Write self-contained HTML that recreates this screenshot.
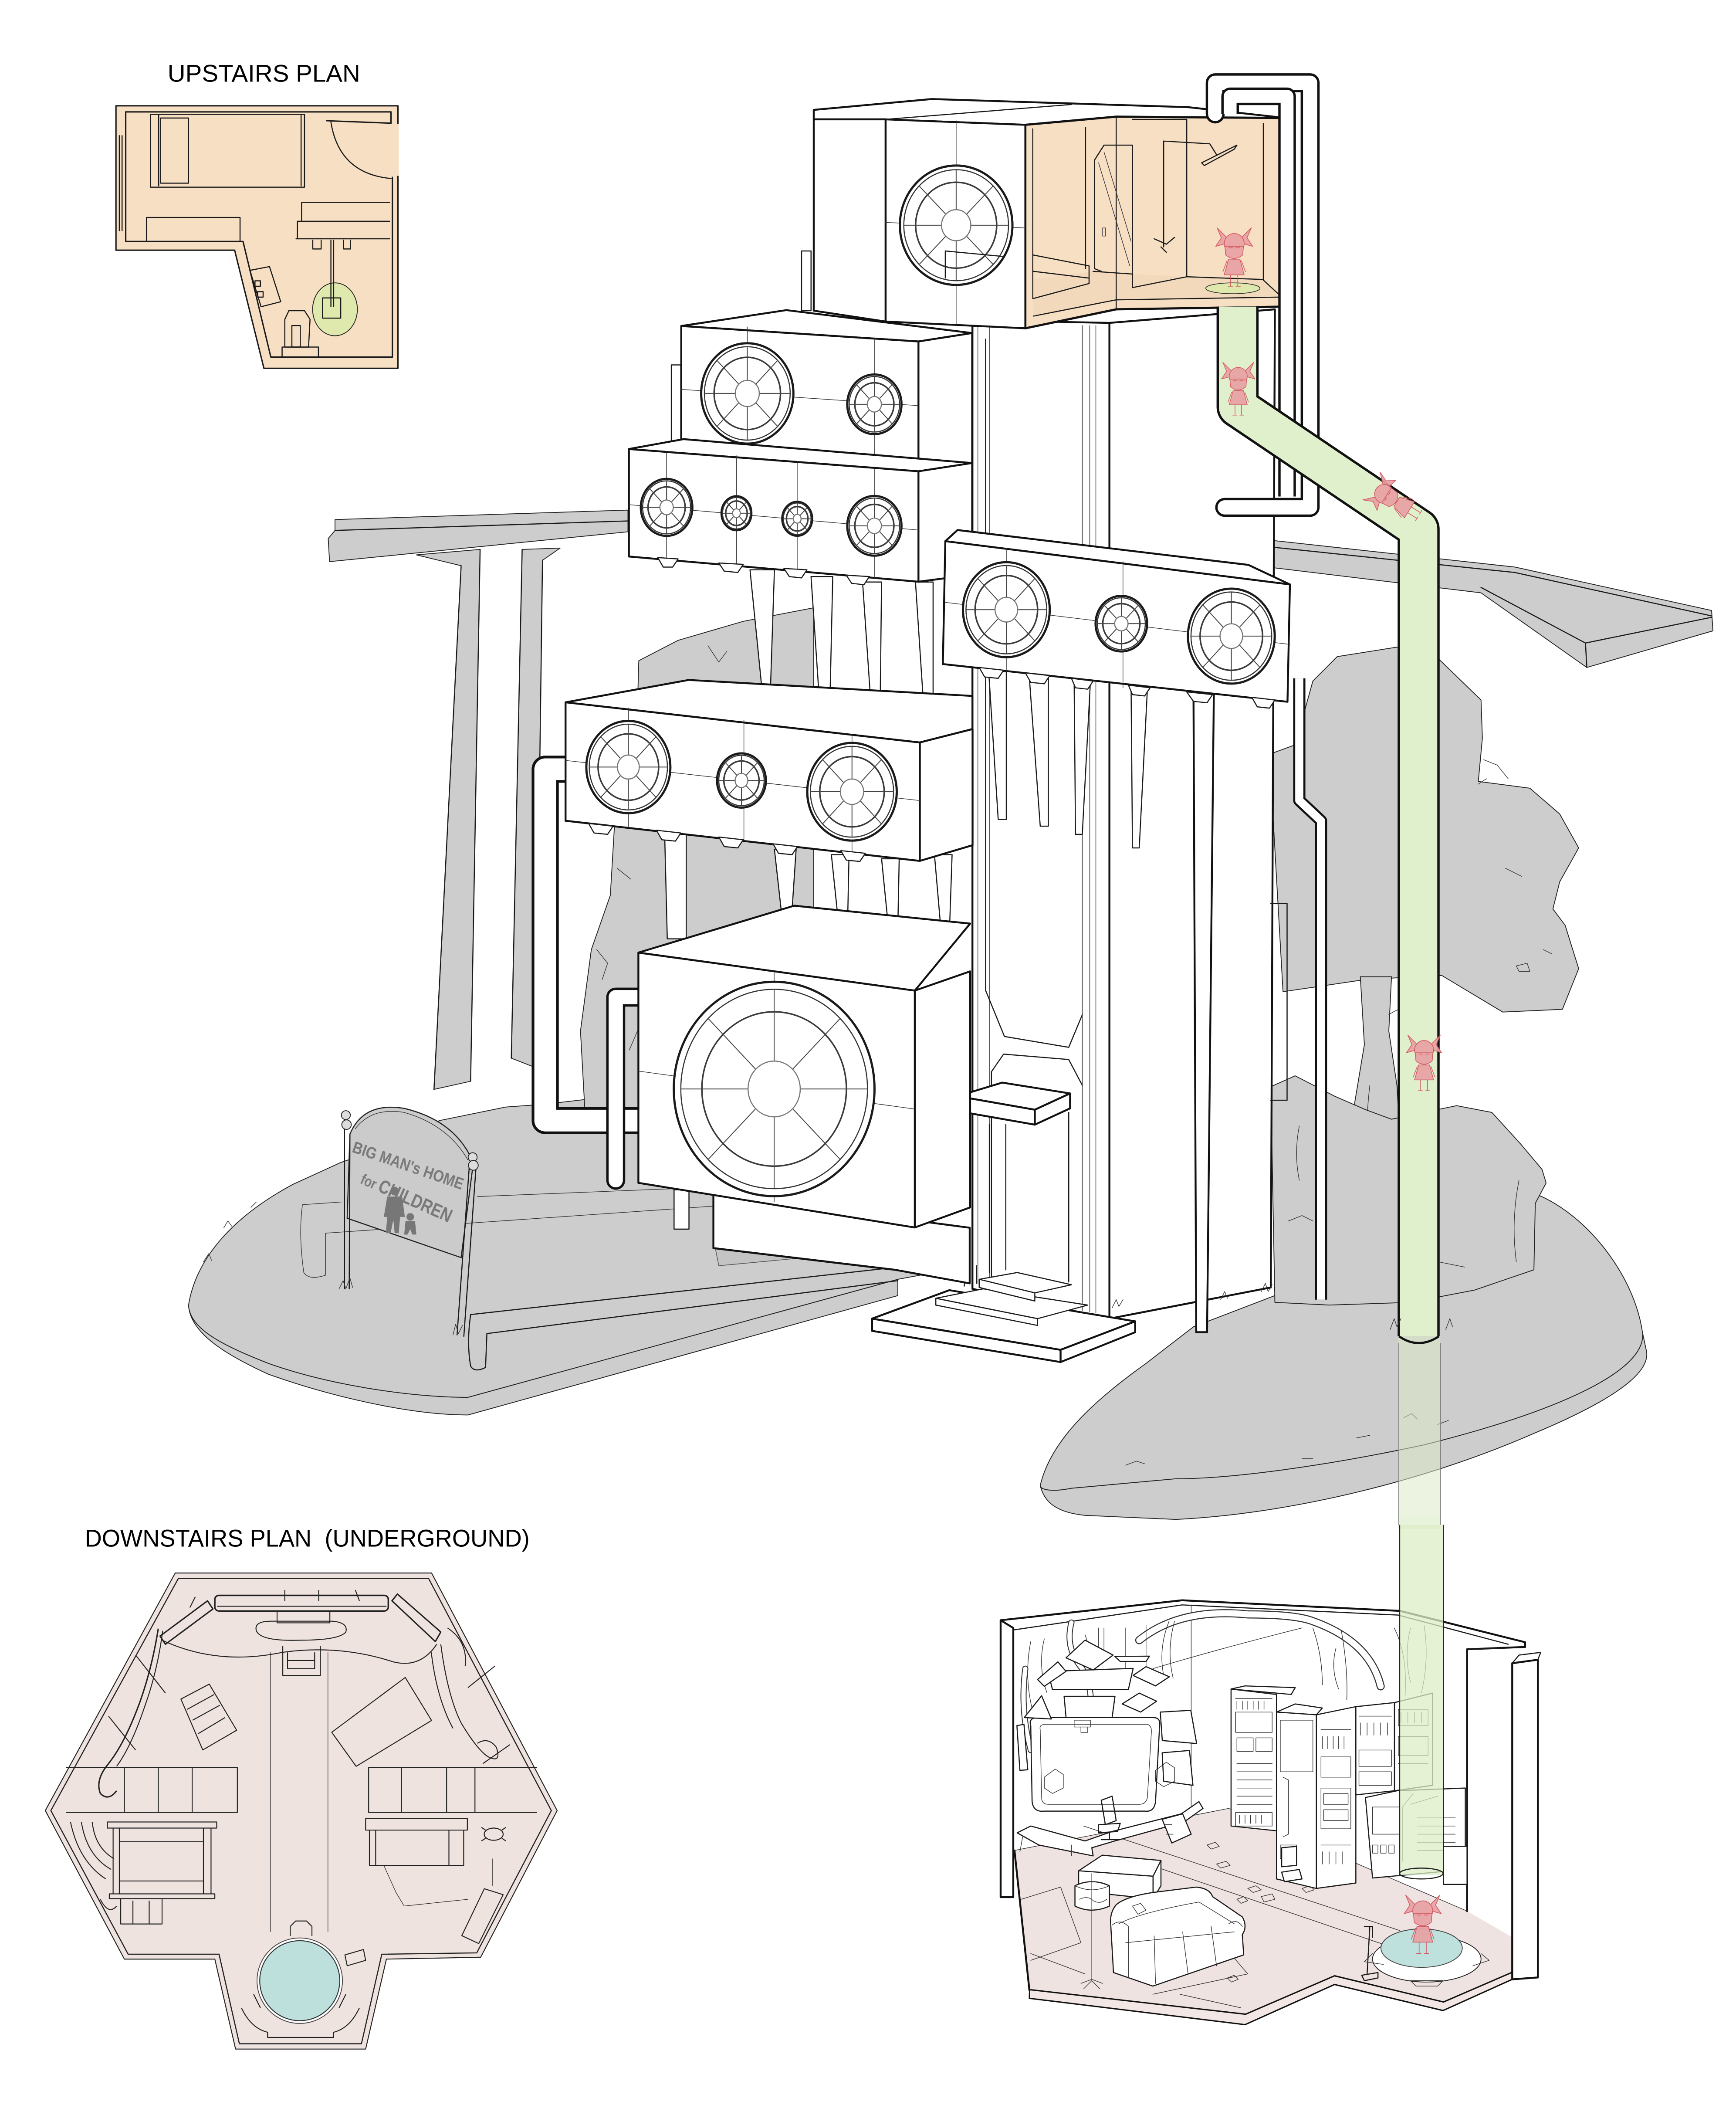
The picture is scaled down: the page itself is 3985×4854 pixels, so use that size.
<!DOCTYPE html>
<html><head><meta charset="utf-8"><style>
html,body{margin:0;padding:0;background:#fff;}
svg{display:block}
.k{fill:none;stroke:#111;stroke-width:1.4;stroke-linejoin:round;stroke-linecap:round}
.m{fill:none;stroke:#1a1a1a;stroke-width:.8;stroke-linejoin:round;stroke-linecap:round}
.t{fill:none;stroke:#333;stroke-width:.45;stroke-linejoin:round;stroke-linecap:round}
.w{fill:#fff;stroke:#111;stroke-width:1.4;stroke-linejoin:round}
.wm{fill:#fff;stroke:#1a1a1a;stroke-width:.8;stroke-linejoin:round}
.wt{fill:#fff;stroke:#222;stroke-width:.5;stroke-linejoin:round}
.g{fill:#cdcdcd;stroke:#222;stroke-width:.6;stroke-linejoin:round}
.pk{fill:#efe3e0;stroke:#222;stroke-width:.7;stroke-linejoin:round}
.lbl{font-family:"Liberation Sans",Arial,sans-serif;font-size:18px;fill:#000;white-space:pre}
</style></head><body>
<svg width="3985" height="4854" viewBox="0 0 1280 1559" preserveAspectRatio="none" xmlns="http://www.w3.org/2000/svg" xmlns:xlink="http://www.w3.org/1999/xlink">
<defs>
<g id="fan">
 <circle r="1" fill="#fff" stroke="#1a1a1a" stroke-width="5" vector-effect="non-scaling-stroke"/>
 <circle r=".93" fill="none" stroke="#333" stroke-width="2.5" vector-effect="non-scaling-stroke"/>
 <circle r=".72" fill="none" stroke="#3a3a3a" stroke-width="3.5" vector-effect="non-scaling-stroke"/>
 <path d="M0,-.93V-.26M0,.26V.93M-.93,0H-.26M.26,0H.93M.184,-.184L.66,-.66M-.184,-.184L-.66,-.66M.184,.184L.66,.66M-.184,.184L-.66,.66" stroke="#444" stroke-width="2" fill="none" vector-effect="non-scaling-stroke"/>
 <circle r=".26" fill="#fff" stroke="#777" stroke-width="2.5" vector-effect="non-scaling-stroke"/>
</g>
<g id="girl" fill="#e9a1a4" stroke="#d0505a" stroke-width=".5" stroke-linejoin="round" opacity=".92">
 <path d="M-5,-34 L-12,-41 L-9,-34 L-13,-28 L-6,-30Z M5,-34 L12,-41 L9,-34 L13,-28 L6,-30Z"/>
 <ellipse cx="0" cy="-30" rx="7" ry="7"/>
 <path d="M-6.5,-28 L-6,-22 Q0,-17 6,-22 L6.5,-28Z"/>
 <path d="M-4,-19 L4,-19 L7,-8 L-7,-8Z"/>
 <path d="M-5,-18 L-8,-10 M5,-18 L8,-10 M-2.5,-8 V0 M2.5,-8 V0 M-4.5,0 H-1 M1,0 H4.5" fill="none"/>
 <path d="M-4,-27 H-1 M1,-27 H4" fill="none"/>
</g>
</defs>

<!-- ========== BRIDGE LEFT ========== -->
<polygon class="g" points="247,383 463,376 463,392 243,414 242,397 247,391"/>
<path class="m" d="M247,391 L463,384"/>
<polygon class="g" points="307,409 354,405 347,797 320,803 340,417"/>
<path class="m" d="M340,417 L320,803 M354,405 L347,797"/>
<polygon class="g" points="385,405 413,404 400,413 395,787 377,780"/>
<path class="m" d="M385,405 L377,780 M400,413 L395,787"/>

<!-- ========== ROAD RIGHT ========== -->
<polygon class="g" points="935,398 1117,418 1262,450 1263,465 1170,492 1092,437 935,418"/>
<path class="m" d="M935,403 L1117,422 L1262,454 M1169,474 L1262,455 M1169,474 L1092,433 M1169,474 L1170,492"/>

<!-- ========== LEFT ISLAND ========== -->
<path class="g" d="M139,962 C140,982 165,998 198,1013 C240,1028 300,1043 345,1043 L662,955 L662,943 L345,1030 C300,1030 240,1020 198,1005 C165,992 140,980 139,962 Z"/>
<path class="g" d="M139,962 C145,925 175,895 216,873 L251,857 L286,845 L324,826 L373,816 L401,814 L470,806 L560,815 L662,880 L705,915 L705,935 L662,943 L345,1030 C300,1030 240,1020 198,1005 C165,992 140,980 139,962 Z"/>
<path class="t" d="M150,930 l4,-6 l2,5 M165,905 l3,-5 l3,4 M185,890 l4,-4"/>

<!-- ========== RIGHT ISLAND ========== -->
<path class="g" d="M767,1095 C770,1108 780,1115 800,1117 L867,1120 C950,1116 1050,1092 1130,1057 C1190,1032 1217,1012 1214,996 L1211,982 C1215,1010 1150,1040 1050,1065 C980,1080 910,1090 867,1090 L790,1097 C775,1100 767,1098 767,1095 Z"/>
<path class="g" d="M767,1095 C775,1060 810,1030 845,1005 L880,978 L940,955 L1000,930 L1080,885 L1132,880 C1170,895 1205,940 1211,982 C1215,1010 1150,1040 1050,1065 C980,1080 910,1090 867,1090 L790,1097 C775,1100 767,1098 767,1095 Z"/>
<path class="t" d="M830,1080 l8,-3 l6,2 M1000,1060 l10,-2 M960,1075 l8,0 M1060,1050 l8,-3 M1035,1045 l6,-3 l4,4"/>

<!-- ========== RIGHT TREE ========== -->
<polygon class="g" points="986,484 1030,477 1060,485 1092,516 1093,544 1090,576 1128,581 1150,600 1164,625 1150,650 1145,670 1154,682 1164,714 1152,744 1108,746 1063,719 1007,722 946,731 936,556 955,549 968,502"/>
<path class="t" d="M1094,560 l10,4 l8,10 M1110,640 l12,6 M1118,712 l8,-2 l2,6 l-8,0z M1138,700 l6,3 M1090,578 l6,-4"/>
<polygon class="g" points="1003,720 1026,720 1024,760 1030,800 1034,870 1040,932 1008,935 1002,880 996,830 1006,770"/>
<path class="t" d="M1024,748 Q1035,740 1060,738 M1010,800 Q1004,850 1014,900"/>
<path class="g" d="M937,801 L955,793 L984,808 L1007,818 L1026,825 L1074,815 L1100,820 L1121,843 L1137,862 L1140,872 L1132,887 L1131,936 L1087,951 L1040,960 L980,962 L940,960 Z"/>
<path class="t" d="M958,830 q-4,20 0,40 M1120,870 q-6,30 -2,60 M1060,930 l20,4 M950,900 l10,-4 l8,4"/>

<!-- ========== LEFT TREE ========== -->
<polygon class="g" points="471,487 500,472 548,458 600,448 600,700 560,740 520,790 470,832 432,832 428,760 436,700 450,660 453,610 468,590"/>
<path class="t" d="M440,700 l8,10 l-4,12 M455,640 l10,8 M470,760 l-6,14 M522,476 l8,12 l6,-8"/>

<!-- ========== WALKWAY / GROUND LINES ========== -->
<path class="t" d="M352,882 L527,875 M240,909 L527,889 M223,888 L252,886 M223,888 Q220,910 224,938 Q228,944 240,940 L240,909"/>
<path class="m" d="M347,969 L662,934 M359,983 L662,944 M347,969 Q344,990 347,1007 Q350,1012 358,1008 L359,983"/>
<path fill="#c4c4c4" stroke="#555" stroke-width=".5" d="M527,918 L610,913 Q617,918 615,925 L530,933 Z"/>

<!-- ========== SIGN ========== -->
<path fill="#cbcbcb" stroke="#222" stroke-width=".8" d="M258,836 Q268,812 298,817 Q336,826 349,857 L340,927 L256,898 Z"/>
<path class="t" d="M262,832 Q274,816 298,820 Q330,829 345,855"/>
<g font-family="'Liberation Sans',Arial,sans-serif" font-weight="bold" fill="#7a7a7a">
<text x="259" y="849" font-size="12" textLength="86" lengthAdjust="spacingAndGlyphs" transform="rotate(19 259 849)">BIG MAN's HOME</text>
<text x="265" y="872" font-size="11" textLength="72" lengthAdjust="spacingAndGlyphs" transform="rotate(24 265 872)">for <tspan font-size="14">CHILDREN</tspan></text>
</g>
<g fill="#777">
<circle cx="291" cy="878" r="3.2"/>
<path d="M285.5,882 L296.5,882 L298.5,897 L295,897 L294,909 L291,909 L290,899 L288,909 L284.5,909 L285.5,897 L283,897 Z"/>
<circle cx="302.5" cy="897" r="2.8"/>
<path d="M299,900 L306,900 L307,910 L304,910 L302.5,906 L300.5,910 L298,910 Z"/>
</g>
<path class="m" d="M254,825 L254,950 M258,836 L257.5,950"/>
<circle cx="255" cy="822" r="3.3" fill="#ddd" stroke="#222" stroke-width=".6"/>
<circle cx="255.5" cy="829" r="3.5" fill="#ddd" stroke="#222" stroke-width=".6"/>
<path class="m" d="M346,860 L337,984 M351,860 L342,985"/>
<circle cx="348.5" cy="853" r="3.3" fill="#ddd" stroke="#222" stroke-width=".6"/>
<circle cx="349" cy="859" r="3.6" fill="#ddd" stroke="#222" stroke-width=".6"/>
<path class="t" d="M250,950 l3,-6 l2,6 l3,-8 l2,7 M334,984 l2,-8 l2,7 l3,-6"/>

<!-- ========== BACK TOWER (top) ========== -->
<polygon class="w" points="600,81 687,73 876,79 948,87 823,86 756,92 653,88 600,88"/>
<path class="m" d="M653,88 L790,77"/>
<polygon class="w" points="600,88 653,88 653,237 600,229"/>
<path class="wm" d="M591,185 h7 v44 h-7 z"/>

<!-- ========== TOWER COLUMN ========== -->
<polygon class="w" points="717,236 818,238 818,972 717,950"/>
<polygon class="w" points="818,238 940,228 937,949 818,972"/>
<path class="t" d="M721,240 V946 M729.5,240 V944 M798,240 V966 M803.5,240 V967 M808,240 V968"/>
<path class="m" d="M726.7,250 V730 L740.6,764 L788,772 L798,748 M731,944 V790 L740,777 L788,781 L798,800"/>
<path class="m" d="M937,666 h12 v145 h-12"/>
<path class="t" d="M820,964 l3,-6 l2,5 l3,-5 M900,958 l3,-6 l2,5 M930,952 l3,-6 l2,6 l3,-5"/>
<!-- right tower pipe -->
<path d="M958,500 V590 L974,605 V958" fill="none" stroke="#111" stroke-width="9" stroke-linejoin="round"/>
<path d="M958,500 V590 L974,605 V958" fill="none" stroke="#fff" stroke-width="6" stroke-linejoin="round"/>

<!-- plinth & steps & seat -->
<polygon class="w" points="643,972 700,951 837,974 782,995"/>
<polygon class="w" points="643,972 782,995 782,1004 643,981"/>
<polygon class="w" points="782,995 837,974 837,982 782,1004"/>
<polygon class="wm" points="690,957 725,950 802,962 765,972"/>
<polygon class="wm" points="690,957 765,972 765,977 690,962"/>
<polygon class="wm" points="722,943 750,938 790,947 763,953"/>
<polygon class="wm" points="722,943 763,953 763,959 722,949"/>
<path class="m" d="M711,936 L711,948 M720,933 V946 M729.5,829 V938 M741.6,829 V936 M788,820 V945"/>
<polygon class="w" points="706,808 739,798 789,806 763,818"/>
<polygon class="w" points="706,808 763,818 763,829 706,819"/>
<polygon class="w" points="763,818 789,806 789,817 763,829"/>

<!-- ========== ROOM (upstairs cutaway) ========== -->
<polygon fill="#f7dfc4" stroke="#111" stroke-width="1.6" stroke-linejoin="round" points="756,92 823,86 948,87 948,226 823,228 756,242"/>
<polygon fill="#f3d9bc" stroke="none" points="762,233 823,221 944,219 931,206 875,204 835,202 806,200 762,206"/>
<path class="m" d="M761.5,95 V220 M800.4,94 V198 M823,86 V228 M931.5,91 V206 M943.6,90 V218 M762,233 L823,221 L944,219 M806,200 L835,202 M875,204 L931,206 L944,218"/>
<path class="m" d="M762,188 L803,196 V209 L762,220 M762,200 L803,205"/>
<path class="m" d="M807,118 L814,107 H835 M807,118 V198 L812,200 M835,107 V212 L875,204 V88 L835,88"/>
<path class="t" d="M814,112 L834,178 M810,120 L833,196 M813,168 h2 v6 h-2z"/>
<path class="m" d="M858,104 V182 M858,104 L892,106 L897,114 M886,120 L912,107 L910,110 L888,122z M851,176 L860,180 L866,175 M856,182 L860,186"/>
<ellipse cx="909" cy="212.5" rx="20" ry="4" fill="#dfe9ad" stroke="#333" stroke-width=".5"/>
<use href="#girl" xlink:href="#girl" transform="translate(910,211) scale(1.05)"/>

<!-- fan box -->
<polygon class="w" points="653,88 756,92 756,242 653,237"/>
<path class="t" d="M705,89 V240 M653,164 L756,168"/>
<use href="#fan" xlink:href="#fan" transform="translate(705,166) scale(41.5,44)"/>
<path class="m" d="M697,185 L739,189 M697,185 V205"/>

<!-- top-right pipes -->
<path d="M896,84 V61 H966 V374 H903" fill="none" stroke="#111" stroke-width="14" stroke-linejoin="round" stroke-linecap="round"/>
<path d="M896,84 V61 H966 V374 H903" fill="none" stroke="#fff" stroke-width="10.5" stroke-linejoin="round" stroke-linecap="round"/>
<path d="M907,84 V71 H949 V366" fill="none" stroke="#111" stroke-width="13" stroke-linejoin="round"/>
<path d="M907,84 V71 H949 V366" fill="none" stroke="#fff" stroke-width="9.5" stroke-linejoin="round"/>

<!-- ========== PEGS under 4-fan box ========== -->
<polygon class="wm" points="553,420 571,420 568,510 562,510"/>
<polygon class="wm" points="598,425 614,425 612,514 604,514"/>
<polygon class="wm" points="636,429 650,429 649,517 642,517"/>
<polygon class="wm" points="675,429 688,429 688,520 681,520"/>

<!-- ========== 2-FAN BOX ========== -->
<path class="wm" d="M495,269 h7 v57 h-7 z"/>
<polygon class="w" points="502.3,240.3 579.8,228.6 716.8,245.5 677.2,251.7"/>
<polygon class="w" points="677.2,251.7 716.8,245.5 716.8,341.3 677.2,346.4"/>
<polygon class="w" points="502.3,240.3 677.2,251.7 677.2,346.4 502.3,332"/>
<path class="t" d="M551,241 V334 M644.7,249 V345 M502,287 L677,299"/>
<use href="#fan" xlink:href="#fan" transform="translate(551,290) scale(34,37)"/>
<use href="#fan" xlink:href="#fan" transform="translate(644.7,298) scale(20,22)"/>

<!-- ========== 4-FAN BOX ========== -->
<polygon class="w" points="463.7,331 504,323.7 716.8,341.3 677.2,347.4"/>
<polygon class="w" points="677.2,347.4 716.8,341.3 716.8,423.6 677.2,428.8"/>
<polygon class="w" points="463.7,331 677.2,347.4 677.2,428.8 463.7,410.2"/>
<path class="t" d="M491.5,333 V411 M543,336 V416 M587.8,340 V420 M644.7,345 V426 M463.7,372 L677.2,390.7"/>
<use href="#fan" xlink:href="#fan" transform="translate(491.5,374) scale(19,21)"/>
<use href="#fan" xlink:href="#fan" transform="translate(543,378.3) scale(11,12.5)"/>
<use href="#fan" xlink:href="#fan" transform="translate(587.8,382.4) scale(11,12.5)"/>
<use href="#fan" xlink:href="#fan" transform="translate(644.7,387.6) scale(20,22)"/>
<path class="wm" d="M485,411 L500,412 L496,418 L489,418z M530,415 L548,416 L544,422 L534,421z M578,419 L595,420 L591,426 L582,425z M624,424 L641,425 L637,431 L628,430z"/>

<!-- ========== PEGS under right box ========== -->
<polygon class="wm" points="729,495 742,495 742,604 736,604"/>
<polygon class="wm" points="759,500 773,500 773,609 767,609"/>
<polygon class="wm" points="792,502 804,502 798,615 793,615"/>
<polygon class="wm" points="834,508 846,508 840,625 835,625"/>
<polygon class="w" points="880,511 895,511 890,982 882,982"/>

<!-- ========== RIGHT 3-FAN BOX ========== -->
<polygon class="w" points="697,398.9 706,390.7 920.5,416.4 951.1,430.8"/>
<polygon class="w" points="697,398.9 951.1,430.8 949.3,517.3 695.2,489.5"/>
<path class="t" d="M742,404 V495 M828,414 V507 M697,444 L951,475"/>
<use href="#fan" xlink:href="#fan" transform="translate(742,449.4) scale(32,35)"/>
<use href="#fan" xlink:href="#fan" transform="translate(826.8,459.7) scale(19,20.5)"/>
<use href="#fan" xlink:href="#fan" transform="translate(907.9,468.9) scale(32,35)"/>
<path class="wm" d="M722,492 L740,494 L736,500 L726,499z M756,496 L774,498 L770,504 L760,503z M790,500 L806,502 L802,508 L793,507z M832,505 L848,507 L844,513 L835,512z M875,510 L894,512 L890,518 L880,517z M923,514 L940,516 L936,522 L927,521z"/>

<!-- ========== PEGS under left 3-fan box ========== -->
<polygon class="wm" points="490,612 506,612 506,692 492,692"/>
<polygon class="wm" points="571,626 587,626 584,671 576,671"/>
<polygon class="wm" points="613,630 626,630 625,678 618,678"/>
<polygon class="wm" points="650,633 663,633 662,683 655,683"/>
<polygon class="wm" points="689,630 702,630 700,688 694,688"/>

<!-- left pipes -->
<path d="M420,567 H402 V826 H472" fill="none" stroke="#111" stroke-width="20" stroke-linejoin="round"/>
<path d="M420,567 H402 V826 H472" fill="none" stroke="#fff" stroke-width="16" stroke-linejoin="round"/>
<path d="M472,735 H454 V870" fill="none" stroke="#111" stroke-width="14" stroke-linejoin="round" stroke-linecap="round"/>
<path d="M472,735 H454 V870" fill="none" stroke="#fff" stroke-width="10.5" stroke-linejoin="round" stroke-linecap="round"/>
<path class="wm" d="M497,877 h11 v29 h-11z"/>

<!-- ========== LEFT 3-FAN BOX ========== -->
<polygon class="w" points="417,517.7 507.8,501.2 717,513 717,537.4 678.2,547.3"/>
<polygon class="w" points="678.2,547.3 717.1,537.4 717.1,623 678.2,634.6"/>
<polygon class="w" points="417,517.7 678.2,547.3 678.2,634.6 417,605"/>
<path class="t" d="M463.3,522 V610 M548.5,531 V620 M628.2,541 V629 M417,560.5 L678.2,590.1"/>
<use href="#fan" xlink:href="#fan" transform="translate(463.3,565.4) scale(31,34)"/>
<use href="#fan" xlink:href="#fan" transform="translate(546.7,575.3) scale(18,20)"/>
<use href="#fan" xlink:href="#fan" transform="translate(628.2,583.6) scale(33,36)"/>
<path class="wm" d="M434,607 L452,609 L448,615 L438,614z M484,612 L502,614 L498,620 L488,619z M530,617 L548,619 L544,625 L534,624z M570,622 L588,624 L584,630 L574,629z M620,627 L638,629 L634,635 L624,634z"/>

<!-- ========== BASE BLOCK & BIG FAN BOX ========== -->
<polygon class="w" points="526,880 715,905 715,946 660,936 526,920"/>
<path class="k" d="M526,920 L660,936"/>
<polygon class="w" points="470.7,702.2 585.6,667.6 715.3,680.8 674.5,730.2"/>
<polygon class="w" points="674.5,730.2 715.3,716 715.3,890 674.5,904.8"/>
<polygon class="w" points="470.7,702.2 674.5,730.2 674.5,904.8 470.7,871.9"/>
<path class="t" d="M570.8,716 V886 M470.7,789.5 L674.5,817.5"/>
<use href="#fan" xlink:href="#fan" transform="translate(570.8,802.7) scale(74,79)"/>

<!-- ========== GREEN PIPE ========== -->
<rect x="1031" y="985" width="31" height="132" fill="#dcebc8" opacity=".55"/>
<rect x="1031" y="1117" width="31" height="10" fill="#e4f1d6" opacity=".85"/>
<path d="M1031,990 V1124 M1062,990 V1124" stroke="#777" stroke-width=".5" fill="none"/>
<path d="M912.5,226 V300 L1046,390 V985" fill="none" stroke="#111" stroke-width="31" stroke-linejoin="round"/>
<path d="M912.5,226 V300 L1046,390 V985" fill="none" stroke="#e0efcc" stroke-width="27.5" stroke-linejoin="round"/>
<path d="M1031.5,985 Q1046,995 1061,985" fill="none" stroke="#111" stroke-width="1.6"/>
<use href="#girl" xlink:href="#girl" transform="translate(913,306) scale(.95)"/>
<use href="#girl" xlink:href="#girl" transform="translate(1046,380) rotate(-58) scale(1)"/>
<use href="#girl" xlink:href="#girl" transform="translate(1050,804) scale(1)"/>
<path class="t" d="M1025,980 l3,-8 l2,6 l3,-6 M1066,980 l3,-8 l2,6"/>

<!-- ========== BASEMENT ========== -->
<polygon fill="#efe3e1" stroke="none" points="748.5,1363.7 906,1333 1081.7,1408.7 1115,1428 1115,1453.8 1064.3,1475.7 984,1456.4 918.4,1484.7 759.2,1466.6"/>
<polygon fill="#f3e7e5" stroke="#111" stroke-width="1" stroke-linejoin="round" points="759.2,1466.6 918.4,1484.7 984,1456.4 1064.3,1475.7 1115,1453.8 1115,1459 1064,1482 984,1462.8 918,1492.4 759,1473"/>
<path class="k" d="M748,1364 L759,1467"/>
<!-- walls -->
<path class="k" d="M737.8,1194.3 L871.6,1179.6 L1032.2,1187.4 L1124.5,1210.5 L1124.5,1214 L1081.7,1215.7 V1408.7"/>
<path class="m" d="M747.1,1201.5 L871.6,1183 L1030.9,1190.5 L1112,1212"/>
<polygon class="w" points="737.8,1194.3 747.1,1200 747.1,1398.4 737.8,1398.4"/>
<polygon class="w" points="1115,1226 1133.9,1223.4 1133.9,1457.6 1115,1459"/>
<path class="m" d="M1115,1226 L1120,1220 L1136,1218 L1133.9,1223.4 M1081.7,1215.7 L1108,1215"/>
<path class="t" d="M878.3,1183 V1333 M748,1364 L906,1333 L1081.7,1408.7"/>
<!-- floor lines, rugs, papers -->
<path class="t" d="M799,1346 L1032,1423 M840,1372 L1040,1440 M753,1400 L782,1391 L797,1432 L760,1445 M890,1420 L920,1455 L850,1470 M870,1470 L915,1480 M760,1440 L800,1455 M920,1392 l6,-2 l4,3 l-6,2z M930,1398 l8,-2 l2,4 l-8,2z M912,1400 l5,-2 l3,3 l-5,2z M960,1392 l6,-2 l3,3 l-6,2z M890,1360 l6,-2 l3,3 l-6,2z M897,1374 l7,-2 l3,3 l-7,2z M905,1458 l5,-2 l3,3 l-5,2z"/>
<!-- tubes -->
<path d="M840,1209 Q870,1185 920,1190 Q955,1190 968,1195 Q1010,1210 1018,1243" fill="none" stroke="#333" stroke-width="6" stroke-linecap="round"/>
<path d="M840,1209 Q870,1185 920,1190 Q955,1190 968,1195 Q1010,1210 1018,1243" fill="none" stroke="#fff" stroke-width="4.5" stroke-linecap="round"/>
<path d="M756,1230 Q752,1260 760,1290 M790,1196 Q785,1215 798,1230 Q806,1245 804,1262" fill="none" stroke="#333" stroke-width="4.5" stroke-linecap="round"/>
<path d="M756,1230 Q752,1260 760,1290 M790,1196 Q785,1215 798,1230 Q806,1245 804,1262" fill="none" stroke="#fff" stroke-width="3.2" stroke-linecap="round"/>
<path class="t" d="M968,1200 Q975,1220 975,1242 M989,1202 Q994,1230 993,1253 M850,1230 Q900,1215 960,1200 M760,1210 q-6,30 4,60 M770,1208 q-5,20 2,40 M800,1205 q8,20 0,40 M830,1200 v30 M845,1198 v40 M1028,1200 q10,20 8,50 M862,1195 q-8,20 -4,40 M866,1195 q-6,22 -1,42 M810,1200 v22 M814,1200 v22 M852,1290 q-6,10 0,22 M1040,1200 q-5,20 0,40 M1050,1198 q4,25 -2,50 M985,1215 q-4,15 2,30"/>
<!-- monitor cluster -->
<path class="wm" d="M760,1272 Q758,1266 766,1266 H850 Q856,1266 855,1272 L852,1328 Q851,1336 844,1335 L770,1335 Q762,1336 761,1328 Z"/>
<path class="t" d="M767,1275 Q766,1271 771,1271 H846 Q849,1272 849,1276 L846,1325 Q845,1330 840,1330 L773,1330 Q768,1330 768,1325 Z"/>
<polygon class="wm" points="772.6,1232 835.5,1229.8 832,1245.3 776,1245.3"/>
<polygon class="wm" points="784.6,1250.4 822.1,1250.4 820,1265.9 786,1265.9"/>
<polygon class="wm" points="786,1222 800,1209 820.7,1220 806,1231"/>
<polygon class="wm" points="827.4,1256 840,1248 852.8,1254 841,1262"/>
<polygon class="wm" points="835.5,1235 845,1228.5 862.2,1236 852,1242.7"/>
<polygon class="wm" points="855.5,1262 878,1260.7 882.3,1285.2 857,1283"/>
<polygon class="wm" points="856.9,1292 877,1290.3 879.6,1316 858,1313"/>
<polygon class="wm" points="755.2,1266 768,1250 775.2,1267.1"/>
<polygon class="wm" points="749.8,1272 755,1271 757.8,1304.5 752,1305"/>
<polygon class="wm" points="822,1221 847.5,1220.8 845,1224.7 826,1224.7"/>
<polygon class="wm" points="765,1238 780,1225 786,1232 770,1243"/>
<path class="t" d="M770,1310 l8,-6 l6,4 l0,10 l-8,4 l-6,-4z M852,1305 l8,-6 l6,4 l0,10 l-8,4 l-6,-4z M792,1268 h12 v5 h-12z M797,1273 h5 v4 h-5z"/>
<!-- desk -->
<path class="wm" d="M750,1351 L760,1346 L800,1357 L820,1350 L871,1337 L884,1328 L887,1333 L873,1343 L822,1357 L805,1362 L806,1368 L766,1360 Z"/>
<path class="t" d="M754,1354 L752,1365 M790,1360 V1368 M870,1342 V1350"/>
<polygon class="wm" points="856.9,1341 872,1337 878.3,1352 864,1358.5"/>
<path class="t" d="M859,1345 h5 M860,1352 h5"/>
<path class="m" d="M812,1327 l8,-3 l3,18 l-8,3z M810,1345 l16,-1 l-2,6 l-14,1z M818,1351 v5 M812,1356 h14"/>
<!-- racks -->
<polygon class="wm" points="907.7,1245 918,1242.7 955,1244 952,1249"/>
<polygon class="wm" points="907.7,1245 941.2,1249 941.2,1349.5 907.7,1346"/>
<path class="t" d="M911,1252 h27 M912,1254 v6 M916,1254 v6 M920,1254 v6 M924,1254 v6 M928,1254 v6 M932,1254 v6 M911,1262 h27 v15 h-27z M912,1281 h12 v10 h-12z M926,1281 h12 v10 h-12z M912,1300 h26 M912,1306 h26 M912,1312 h26 M912,1318 h26 M912,1324 h26 M912,1330 h26 M911,1336 h27 v10 h-27z M914,1338 v6 M918,1338 v6 M922,1338 v6 M926,1338 v6 M930,1338 v6"/>
<polygon class="wm" points="941.2,1262 955,1256 975,1259 970.6,1264"/>
<polygon class="wm" points="941.2,1262 970.6,1264 970.6,1392 941.2,1385"/>
<polygon class="wm" points="970.6,1264 999.7,1258 999.7,1388 970.6,1392"/>
<polygon class="wm" points="999.7,1258 1028.2,1255 1028.2,1320 999.7,1323"/>
<polygon class="wm" points="1028.2,1255 1056.3,1248 1056.3,1316 1028.2,1320"/>
<path class="t" d="M944,1268 h24 v38 h-24z M946,1310 l4,2 v40 l-4,2 M944,1360 h12 v10 h-12z M974,1275 h22 M975,1280 v9 M979,1280 v9 M983,1280 v9 M987,1280 v9 M991,1280 v9 M974,1295 h22 v15 h-22z M974,1318 h22 v30 h-22z M976,1322 h18 v8 h-18z M976,1334 h18 v8 h-18z M974,1360 h22 M975,1365 v9 M980,1365 v9 M985,1365 v9 M990,1365 v9 M1002,1265 h24 M1003,1270 v9 M1008,1270 v9 M1013,1270 v9 M1018,1270 v9 M1023,1270 v9 M1002,1290 h24 v12 h-24z M1002,1306 h24 v10 h-24z M1031,1260 h22 v12 h-22z M1031,1280 h22 v14 h-22z M1031,1300 h22 M1033,1262 v8 M1038,1262 v8 M1043,1262 v8 M1048,1262 v8"/>
<polygon class="wm" points="1006.8,1325 1030,1320 1080.4,1318 1080.4,1378 1012,1384.3"/>
<path class="t" d="M1012,1332 h20 v20 h-20z M1012,1360 h4 v6 h-4z M1018,1360 h4 v6 h-4z M1024,1360 h4 v6 h-4z M1040,1330 l20,-6 M1045,1340 h28 M1045,1346 h28 M1045,1352 h28 M1045,1358 h28 M1045,1364 h28 M1042,1322 l-8,10 v40"/>
<polygon class="wm" points="1064.3,1361 1081.7,1361 1081.7,1389 1064.3,1389"/>
<polygon class="wm" points="945,1362 956,1361 956,1375 945,1376"/>
<polygon class="wm" points="945,1380 958,1378 960,1385 947,1387"/>
<!-- coffee box, lamp, couch -->
<polygon class="wm" points="795.3,1379 812.7,1367.5 856,1371.4 850.2,1383"/>
<polygon class="wm" points="795.3,1379 850.2,1383 850.2,1399.7 795.3,1394"/>
<polygon class="wm" points="850.2,1383 856,1371.4 856,1390 850.2,1399.7"/>
<path class="wm" d="M792.6,1390 Q805,1384 818,1390 V1405 Q805,1411 792.6,1405 Z"/>
<path class="t" d="M792.6,1390 Q805,1396 818,1390 M805,1381 V1460 M797,1462 l8,-3 l8,3 M799,1466 l6,-6 l6,6 M796,1400 q6,-3 10,1 q5,3 10,-1"/>
<path class="wm" d="M823,1404 Q830,1398 850,1395 L882,1391 Q892,1392 894,1398 L916,1413 Q920,1420 916,1426 L917,1441 L850,1464 L821,1454 L819,1419 Q818,1410 823,1404 Z"/>
<path class="t" d="M825,1418 Q840,1410 884,1402 L910,1418 M830,1432 L910,1424 M851,1427 L852,1462 M872,1424 L876,1455 M893,1420 L897,1449 M820,1419 Q826,1414 832,1420 L832,1458 M906,1418 Q912,1414 916,1420 M835,1405 l6,-2 l4,5 l-6,3z"/>
<!-- green beam + disc -->
<ellipse cx="1052" cy="1444" rx="40" ry="17" fill="#fff" stroke="#222" stroke-width=".6"/>
<path class="t" d="M1012,1440 l-6,6 l14,2 M1092,1440 l6,5 l-12,4 M1040,1460 h24 l-4,4 h-16z"/>
<ellipse cx="1048.2" cy="1436" rx="30" ry="14.2" fill="#bfe1dd" stroke="#444" stroke-width=".6"/>
<path class="m" d="M1004,1456 l12,-2 l0,4 l-10,2z M1008,1455 L1010,1420 M1006,1420 h6 v8"/>
<rect x="1032" y="1124" width="32.3" height="258" fill="#dcedc6" opacity=".75"/>
<path d="M1032,1124 V1382 M1064.3,1124 V1382" stroke="#222" stroke-width=".8" fill="none"/>
<ellipse cx="1048" cy="1381" rx="16" ry="4" fill="none" stroke="#222" stroke-width=".8"/>
<use href="#girl" xlink:href="#girl" transform="translate(1049,1440) scale(1.05)"/>

<!-- ========== UPSTAIRS PLAN ========== -->
<text class="lbl" x="123.6" y="60.2" textLength="142" lengthAdjust="spacingAndGlyphs">UPSTAIRS PLAN</text>
<polygon fill="#f7dfc4" points="85,78 294,78 294,271.5 195,271.5 173,184.4 85,184.4"/>
<g class="m">
<path d="M85.5,78 H293.4 V91 M85.5,78 V184.4 H173 L194.6,271.5 H293.4 V130" stroke-width="1"/>
<path d="M92.7,178 V82.5 H288.3 V90.8 L241,89 M92.7,178 H179.2 L199.7,263.2 H289.3 V130.7" stroke-width="1"/>
<path d="M88,100 V170 M90,100 V170"/>
<path d="M244,90 Q250,128 288.3,131.6"/>
<rect x="111" y="84.3" width="113.5" height="53.7"/>
<path d="M117,85 V137 M222,85 V137"/>
<rect x="118.4" y="87" width="20.6" height="48"/>
<path d="M108,178 V160.3 H177 V178"/>
<path d="M222.4,163.1 V149.2 H287.3 M219.3,175.1 V163.1 H287.3 M218.3,176 H287.3"/>
<path d="M230.6,177 V183.5 H236.8 V177 M253.3,177 V183.5 H258.4 V177"/>
<polygon points="184.3,199.3 198.7,196.5 207,222.4 192.5,226.1"/>
<path d="M188,207 h4 v4 h-4z M190,215 h4 v4 h-4z"/>
</g>
<ellipse cx="247" cy="228" rx="16.5" ry="19.5" fill="#dfe9ad" stroke="#222" stroke-width=".6"/>
<g class="m">
<rect x="237.8" y="219.6" width="13.4" height="14.9"/>
<path d="M244,177 V226 M246,177 V226"/>
<polygon points="213,229 224.5,229 228.6,235.4 227.5,255.8 210,255.8 210,235.4"/>
<rect x="215.2" y="240" width="6.2" height="15.8"/>
<rect x="208" y="255.8" width="26.8" height="7.4"/>
</g>

<!-- ========== DOWNSTAIRS PLAN ========== -->
<text class="lbl" x="62.5" y="1140" textLength="328" lengthAdjust="spacingAndGlyphs">DOWNSTAIRS PLAN  (UNDERGROUND)</text>
<polygon class="pk" stroke-width="1.1" points="129.2,1159.5 318.2,1159.5 410.8,1334.6 354.4,1442.7 284.9,1444.1 269.6,1510.4 173.7,1510.4 158.4,1444.1 91.7,1444.1 33.4,1334.6"/>
<polygon fill="none" stroke="#222" stroke-width=".8" points="131.5,1163.5 316,1163.5 406.5,1334.6 351.5,1439.5 281.5,1440.5 266.5,1506.5 176.5,1506.5 161.5,1440.5 94.5,1440.5 37.5,1334.6"/>
<g fill="none" stroke="#222" stroke-width=".7" stroke-linejoin="round">
<rect x="158.4" y="1176" width="127.9" height="11.5" rx="3" stroke-width="1.1"/>
<path d="M160,1184 H285"/>
<polygon points="118,1206 153,1180 157,1186 122,1212" stroke-width="1"/>
<polygon points="289,1180 293,1175 325,1203 321,1210" stroke-width="1"/>
<path d="M204.3,1187.5 V1196.2 H243.2 V1187.5"/>
<path d="M189,1202 Q187,1195 200,1195 L245,1195 Q257,1196 255,1203 Q250,1209 222,1209 Q192,1210 189,1202 Z"/>
<path d="M119.5,1209 Q160,1228 208,1218 Q250,1212 290,1225 Q310,1230 322,1212"/>
<path d="M208.5,1213.4 V1235 H236.2 V1213.4 M212,1218 V1230 H232 V1218 M212,1224 H232"/>
<path d="M199.5,1218 V1424 M241.8,1218 V1424" stroke-width=".4"/>
<polygon points="133.4,1252.4 154.3,1241.4 174.5,1275.4 149.5,1289.9"/>
<path d="M138,1260 L158,1249 M142,1268 L162,1257 M146,1278 L166,1266"/>
<polygon points="244.6,1276.9 298.8,1236.5 318.2,1268.2 262.6,1302"/>
<path d="M48.6,1302.8 H175 V1336 H48.6 M91.7,1302.8 V1336 M116.7,1302.8 V1336 M141.7,1302.8 V1336"/>
<path d="M396,1302.8 H271.8 V1336 H396 M296,1302.8 V1336 M329.3,1302.8 V1336 M350.2,1302.8 V1336"/>
<path d="M100,1220 L122,1248 M80,1265 L100,1290 M345,1244 L365,1228 M356,1300 L376,1286"/>
<rect x="79.2" y="1343" width="80.6" height="4.5"/>
<rect x="80.6" y="1396" width="77.8" height="3.5"/>
<path d="M83.4,1347.5 V1396 M155.6,1347.5 V1396 M88,1347.5 V1396 M88,1357.6 H150 M88,1386.5 H150 M150,1347.5 V1396"/>
<path d="M89,1399.5 V1418.2 H119.5 V1399.5 M98,1401 V1418 M110,1401 V1418"/>
<path d="M269.6,1340.3 H344.6 V1349 H269.6 Z M272.4,1349 V1375 H341.9 V1349 M277,1349 V1375 M331,1349 V1375"/>
<ellipse cx="364" cy="1352" rx="7" ry="4.5"/>
<path d="M358,1349 l-3,-2 M370,1349 l3,-2 M358,1355 l-3,2 M370,1355 l3,2"/>
<polygon points="340.5,1426.8 357.1,1392.2 371,1396.6 353,1432.6"/>
<path d="M283,1375 L292,1395 L298,1405 L345,1400 M363,1370 V1390" stroke-width=".4"/>
<path d="M116.7,1200.5 Q112,1230 103,1255 Q92,1285 80,1300 Q70,1312 74,1322 Q80,1328 86,1320" stroke-width="1"/>
<path d="M120,1202 Q116,1232 107,1257 Q97,1287 86,1302"/>
<path d="M52,1343 Q58,1372 78,1385 M60,1343 Q64,1368 82,1378 M68,1343 Q70,1362 84,1370 M74,1400 Q80,1412 86,1405"/>
<path d="M325,1212 Q330,1250 340,1270 Q352,1290 360,1295 Q370,1300 366,1288 Q360,1280 352,1285"/>
<path d="M318,1218 Q322,1252 334,1274"/>
<path d="M330,1200 Q345,1210 343,1228 M140,1185 l4,-8 M210,1172 v8 M235,1172 v8 M262,1172 l3,8"/>
<circle cx="221" cy="1460" r="31.5" fill="#fff" stroke="#444" stroke-width=".6"/>
<circle cx="221" cy="1460" r="29.5" fill="#bde0dc" stroke="#333" stroke-width=".7"/>
<path d="M214,1427 V1420 L218,1416 H226 L230,1420 V1427"/>
<path d="M178,1480 Q185,1495 197.3,1498 V1501.8 H246 V1498 Q258,1495 265,1480 M192,1480 L187,1470 M250,1480 L255,1470"/>
<polygon points="254.3,1441 268,1437 269.6,1445 256,1449"/>
</g>
</svg>
</body></html>
